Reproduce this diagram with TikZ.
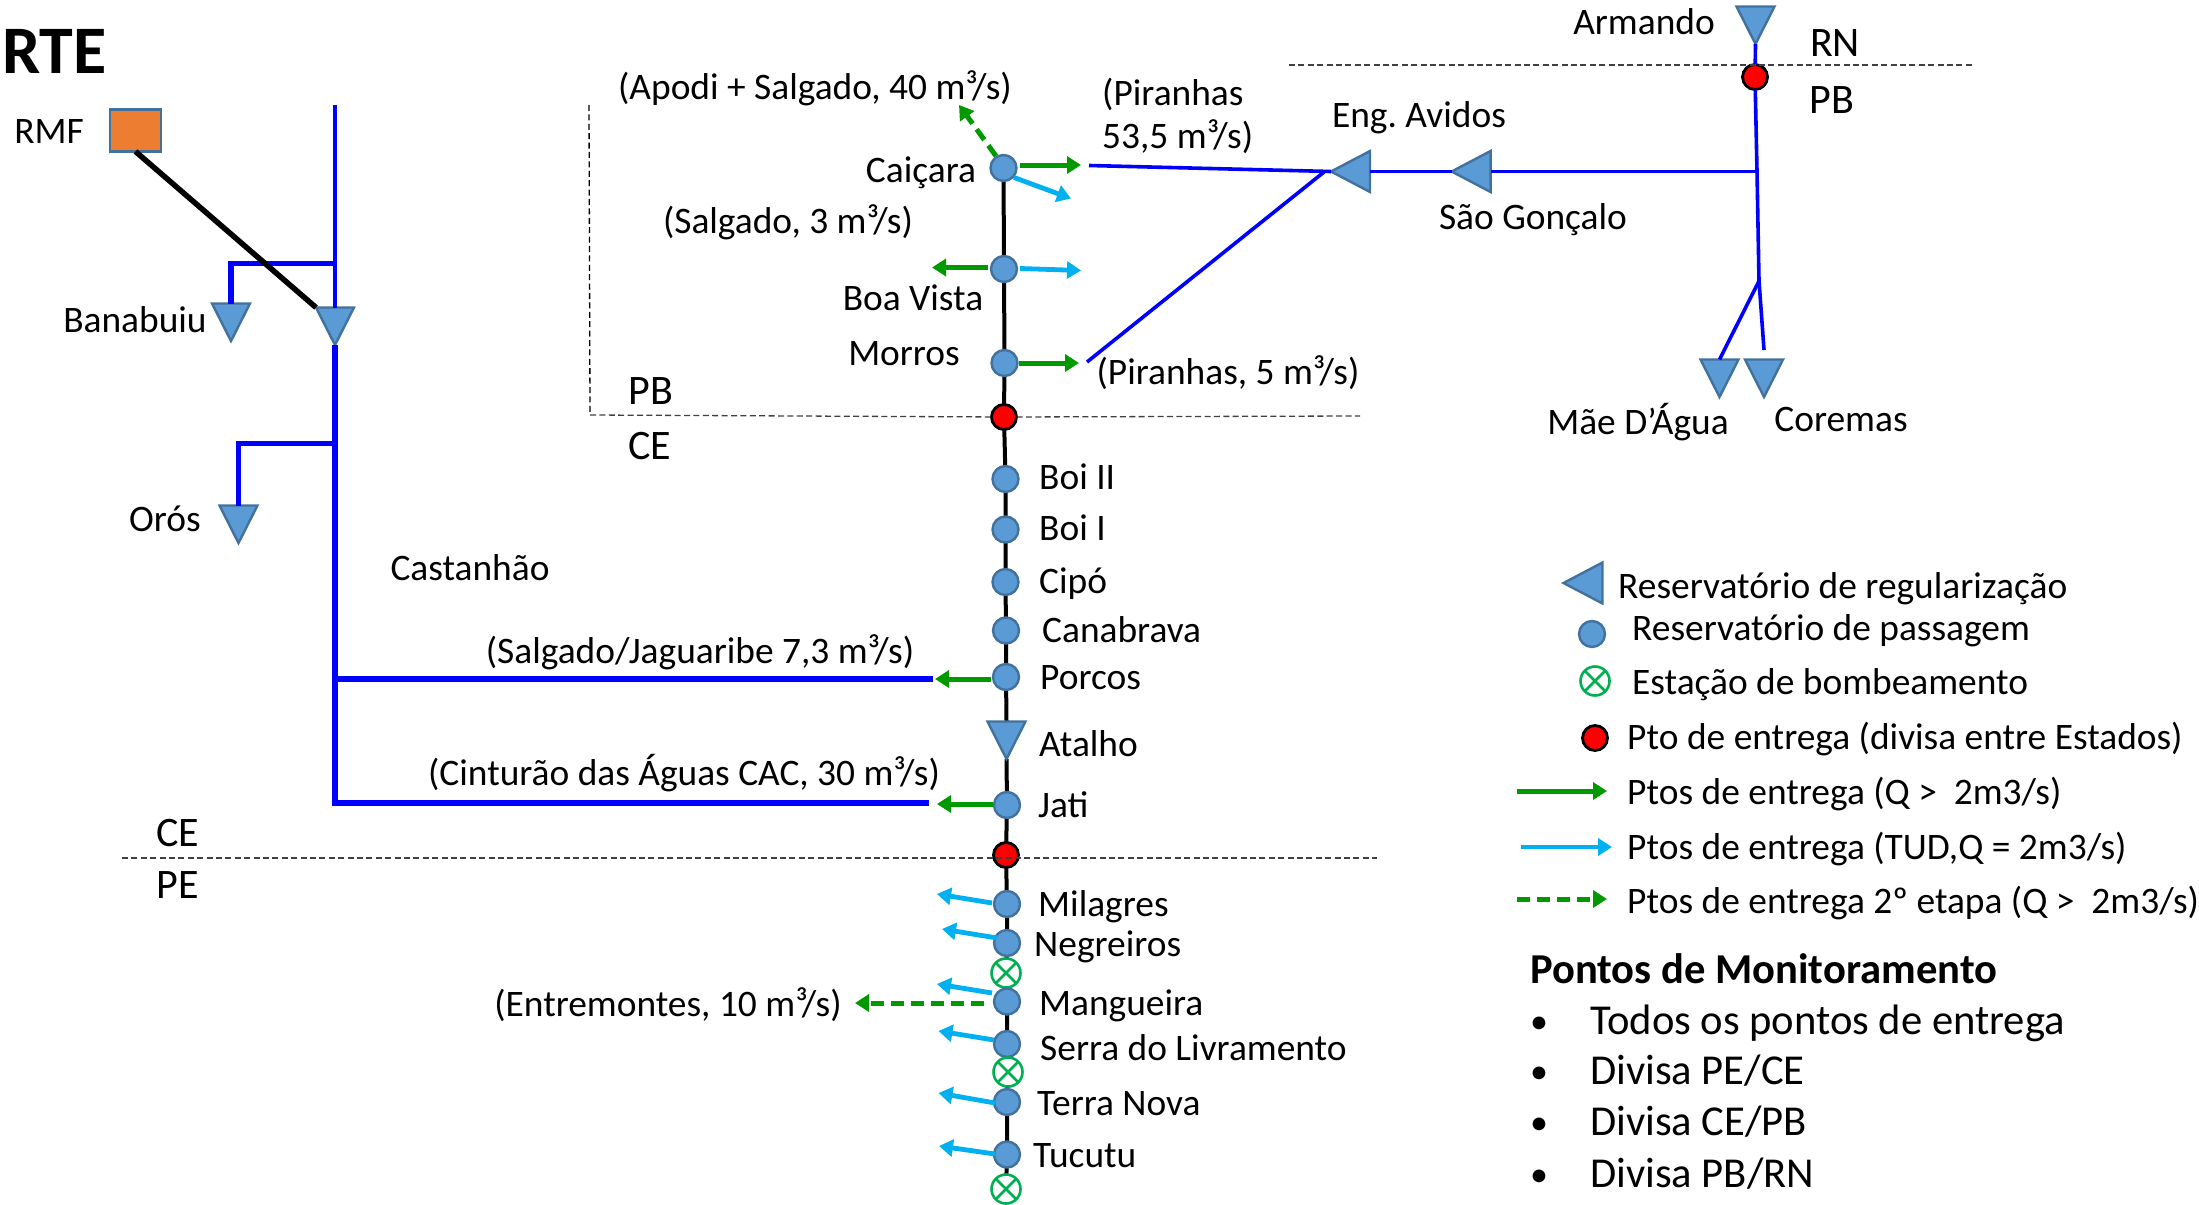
\documentclass[tikz,border=0pt]{standalone}
\usepackage{fontspec}
\setmainfont{Carlito}
\usetikzlibrary{arrows.meta,shapes.geometric,backgrounds}
\definecolor{resfill}{HTML}{5B9BD5}
\definecolor{resline}{HTML}{41719C}
\definecolor{orangebox}{HTML}{ED7D31}
\definecolor{arrgreen}{HTML}{009900}
\definecolor{arrcyan}{HTML}{00B0F0}
\definecolor{pumpgreen}{HTML}{00B050}
\tikzset{
  lbl/.style={font=\fontsize{37.4}{44}\selectfont,inner sep=0pt,text height=30pt,text depth=6pt,text=black},
  lblw/.style={lbl,anchor=west},
  stlbl/.style={font=\fontsize{42}{50}\selectfont,inner sep=0pt,text height=33pt,text depth=6pt,text=black},
  big/.style={font=\fontsize{42.6}{50}\selectfont,inner sep=0pt,text height=33pt,text depth=6pt,anchor=west},
  bul/.style={big,font=\fontsize{36}{42}\selectfont},
  res/.style={circle,fill=resfill,draw=resline,line width=2.4pt,minimum size=26pt,inner sep=0pt,outer sep=0pt},
  divisa/.style={circle,fill=red,draw=black,line width=2.8pt,minimum size=25pt,inner sep=0pt,outer sep=0pt},
  pump/.style={circle,fill=white,draw=pumpgreen,line width=2.6pt,minimum size=29pt,inner sep=0pt,outer sep=0pt,
    path picture={\draw[pumpgreen,line width=2.6pt] (path picture bounding box.north west)--(path picture bounding box.south east)
      (path picture bounding box.north east)--(path picture bounding box.south west);}},
  tri/.style={isosceles triangle,isosceles triangle stretches,fill=resfill,draw=resline,line width=2.4pt,inner sep=0pt,outer sep=0pt,anchor=apex,minimum height=37.5pt,minimum width=38pt},
  tridown/.style={tri,shape border rotate=-90},
  trileft/.style={tri,shape border rotate=180,minimum height=39pt,minimum width=41pt},
  pipe/.style={draw=blue,line width=3.6pt},
  pipeb/.style={draw=blue,line width=5.2pt},
  canal/.style={draw=black,line width=4pt},
  limit/.style={draw=black!75,line width=1.3pt,dash pattern=on 6pt off 3.4pt},
  garr/.style={draw=arrgreen,line width=5pt,-{Triangle[length=14pt,width=17pt]}},
  darr/.style={garr,dash pattern=on 13pt off 7pt},
  carr/.style={draw=arrcyan,line width=4.8pt,-{Triangle[length=14pt,width=17pt]}}
}
\begin{document}
\begin{tikzpicture}[x=1pt,y=-1pt]
\useasboundingbox (0,0) rectangle (2199,1204);
% reservoirs
\node[res] (caicara) at (1003.5,168) {};
\node[res] (boavista) at (1004,269) {};
\node[res] (morros) at (1004.5,363) {};
\node[divisa] (redpb) at (1004,417) {};
\node[res] (boi2) at (1005.5,479) {};
\node[res] (boi1) at (1005.5,529.5) {};
\node[res] (cipo) at (1005.5,582) {};
\node[res] (canabrava) at (1006,630.5) {};
\node[res] (porcos) at (1006,677) {};
\node[tridown] (atalho) at (1006.5,759) {};
\node[res] (jati) at (1007,805) {};
\node[divisa] (redpe) at (1006,855) {};
\node[res] (milagres) at (1007,904) {};
\node[res] (negreiros) at (1007,943) {};
\node[pump] (pumpa) at (1006,973) {};
\node[res] (mangueira) at (1007,1001.5) {};
\node[res] (serra) at (1007,1044) {};
\node[pump] (pumpb) at (1008,1072) {};
\node[res] (terranova) at (1007,1102) {};
\node[res] (tucutu) at (1007,1154.5) {};
\node[pump] (pumpc) at (1006,1189) {};
\coordinate (canalend) at (1007,1204);
% main canal behind the nodes
\begin{scope}[on background layer]
\draw[canal] (caicara.center)--(boavista.center)--(morros.center)--(redpb.center)--(boi2.center)--(boi1.center)--(cipo.center)--(canabrava.center)--(porcos.center)--(atalho.lower side);
\draw[canal] (atalho.apex)--(jati.center)--(redpe.center)--(milagres.center)--(negreiros.center)--(pumpa.center)--(mangueira.center)--(serra.center)--(pumpb.center)--(terranova.center)--(tucutu.center)--(pumpc.center)--(canalend);
\end{scope}
% left system
\node[draw=resline,fill=orangebox,line width=2.4pt,minimum width=51pt,minimum height=42pt,inner sep=0pt,outer sep=0pt] (rmf) at (135.5,130.5) {};
\node[tridown] (castanhao) at (335,345) {};
\node[tridown] (banabuiu) at (231,341) {};
\node[tridown] (oros) at (238.5,543) {};
\coordinate (topn) at (335,105);
\coordinate (jban) at (335,263.5);
\coordinate (cban) at (231,263.5);
\coordinate (joros) at (335,443.5);
\coordinate (coros) at (238.5,443.5);
\coordinate (jsalg) at (335,679);
\coordinate (esalg) at (933,679);
\coordinate (bott) at (335,803);
\coordinate (ecint) at (929,803);
\draw[pipe] (topn)--(castanhao.lower side);
\draw[pipeb,line join=miter] (jban)--(cban)--(banabuiu.lower side);
\draw[pipeb,line join=miter] (castanhao.apex)--(bott)--(ecint);
\draw[pipeb,line join=miter] (joros)--(coros)--(oros.lower side);
\draw[pipeb] (jsalg)--(esalg);
\draw[line width=5.5pt,black] (rmf.south)--(castanhao.right corner);
% northern system
\node[trileft] (avidos) at (1331,171.5) {};
\node[trileft] (goncalo) at (1451.6,171.5) {};
\node[tridown] (armando) at (1755.5,44) {};
\node[divisa] (redrn) at (1755,77) {};
\node[tridown] (maedagua) at (1719.5,397) {};
\node[tridown] (coremas) at (1764,397) {};
\coordinate (jh) at (1757,171.5);
\coordinate (jb) at (1759,281);
\coordinate (cor) at (1764,350);
\coordinate (pa) at (1089,165.5);
\coordinate (pb) at (1087,362);
\coordinate (pc) at (1324,172);
\draw[pipe] (armando.apex)--(redrn);
\draw[pipe] (redrn)--(jh)--(jb)--(cor);
\draw[pipe] (jb)--(maedagua.lower side);
\draw[pipe] (jh)--(goncalo.lower side);
\draw[pipe] (goncalo.apex)--(avidos.lower side);
\draw[pipe] (pa)--(avidos.apex);
\draw[pipe] (pc)--(pb);
% delivery arrows
\foreach \n/\ax/\ay/\bx/\by/\s in {
 ga/1020/165/1081/165/garr, gb/988/267.5/932/267.5/garr, gc/1019/363/1079/363/garr,
 gd/991/679/935/679/garr, ge/993/804/937/804/garr,
 ca/1014/177.5/1071/198.5/carr, cb/1020/268.5/1081/270.5/carr,
 cc/992/903/937/894/carr, cd/997/938/942/929/carr, ce/992/993/937/984/carr,
 cf/994/1040/938.5/1031/carr, cg/995/1103/938.5/1093/carr, ch/995/1154/939/1146/carr,
 da/996/156/959/105/darr, db/984/1003/855/1003/darr}
{\coordinate (\n s) at (\ax,\ay); \coordinate (\n e) at (\bx,\by); \draw[\s] (\n s)--(\n e);}
% state limits
\coordinate (la) at (589,105); \coordinate (lb) at (590,415); \coordinate (lc) at (1360,416);
\draw[draw=black,line width=1.3pt,dash pattern=on 6pt off 3.4pt] (la)--(lb);
\draw[limit] (lb)--(redpb)--(lc);
\coordinate (ld) at (122,858); \coordinate (le) at (1377,858);
\draw[limit] (ld)--(le);
\coordinate (lf) at (1289,65); \coordinate (lg) at (1973,65);
\draw[limit] (lf)--(lg);
% labels
\node[font=\bfseries\fontsize{68}{72}\selectfont,inner sep=0pt,anchor=west,text height=44pt,text depth=0pt] (rte) at (2,52) {RTE};
\node[lbl] (trmf) at (49,131) {RMF};
\node[lbl] (tban) at (135,320) {Banabuiu};
\node[lbl] (toros) at (165,519) {Orós};
\node[lbl] (tcast) at (470,568) {Castanhão};
\node[stlbl] (tpb) at (651,391) {PB};
\node[stlbl] (tce) at (650,446) {CE};
\node[stlbl] (tce2) at (178,833) {CE};
\node[stlbl] (tpe) at (178,885) {PE};
\node[lbl] (tapodi) at (815,88) {(Apodi + Salgado, 40 m³/s)};
\node[lblw] (tpir) at (1102,94) {(Piranhas};
\node[lblw] (tpirb) at (1102,137) {53,5 m³/s)};
\node[lbl] (tcai) at (921,170) {Caiçara};
\node[lbl] (tsalg) at (788,221) {(Salgado, 3 m³/s)};
\node[lbl] (tboa) at (913,298) {Boa Vista};
\node[lbl] (tmor) at (904,353) {Morros};
\node[lbl] (tpir5) at (1228,372) {(Piranhas, 5 m³/s)};
\node[lblw] at (1039,477) (tboi2) {Boi II};
\node[lblw] at (1039,528) (tboi1) {Boi I};
\node[lblw] at (1039,581) (tcip) {Cipó};
\node[lblw] at (1042,630) (tcan) {Canabrava};
\node[lblw] at (1040,677) (tpor) {Porcos};
\node[lblw] at (1039,744) (tata) {Atalho};
\node[lblw] at (1038,805) (tjat) {Jati};
\node[lbl] at (700,651) (tsj) {(Salgado/Jaguaribe 7,3 m³/s)};
\node[lbl] at (684,773) (tcin) {(Cinturão das Águas CAC, 30 m³/s)};
\node[lblw] at (1038,904) (tmil) {Milagres};
\node[lblw] at (1034,944) (tneg) {Negreiros};
\node[lblw] at (1039,1003) (tman) {Mangueira};
\node[lbl] at (668,1004) (tent) {(Entremontes, 10 m³/s)};
\node[lblw] at (1040,1048) (tser) {Serra do Livramento};
\node[lblw] at (1037,1103) (tter) {Terra Nova};
\node[lblw] at (1033,1155) (ttuc) {Tucutu};
\node[lbl] at (1644,23) (tarm) {Armando};
\node[stlbl] at (1835,43) (trn) {RN};
\node[stlbl] at (1832,100) (tpb2) {PB};
\node[lbl] at (1419,116) (teng) {Eng.\ Avidos};
\node[lbl] at (1533,217) (tgon) {São Gonçalo};
\node[lbl] at (1638,422) (tmae) {Mãe D’Água};
\node[lbl] at (1841,419) (tcor) {Coremas};
% legend
\node[trileft] (legtri) at (1563.5,583) {};
\node[lblw] at (1618,586) (l1) {Reservatório de regularização};
\node[res] (legres) at (1592,634) {};
\node[lblw] at (1632,628) (l2) {Reservatório de passagem};
\node[pump] (legpump) at (1595,681) {};
\node[lblw] at (1632,682) (l3) {Estação de bombeamento};
\node[divisa] (legred) at (1595,738) {};
\node[lblw] at (1627,737) (l4) {Pto de entrega (divisa entre Estados)};
\coordinate (lga) at (1517,791); \coordinate (lgb) at (1607,791);
\draw[garr] (lga)--(lgb);
\node[lblw] at (1627,792) (l5) {Ptos de entrega (Q >~ 2m3/s)};
\coordinate (lca) at (1521,847); \coordinate (lcb) at (1612,847);
\draw[carr] (lca)--(lcb);
\node[lblw] at (1627,847) (l6) {Ptos de entrega (TUD,Q = 2m3/s)};
\coordinate (lda) at (1517,899); \coordinate (ldb) at (1607,899);
\draw[darr] (lda)--(ldb);
\node[lblw] at (1627,901) (l7) {Ptos de entrega 2º etapa (Q >~ 2m3/s)};
\node[big,font=\bfseries\fontsize{42.6}{50}\selectfont] at (1530,970) (mon) {Pontos de Monitoramento};
\node[bul] at (1530,1020) (b1) {•};
\node[big] at (1590,1021) (m1) {Todos os pontos de entrega};
\node[bul] at (1530,1070) (b2) {•};
\node[big] at (1590,1071) (m2) {Divisa PE/CE};
\node[bul] at (1530,1121) (b3) {•};
\node[big] at (1590,1122) (m3) {Divisa CE/PB};
\node[bul] at (1530,1173) (b4) {•};
\node[big] at (1590,1174) (m4) {Divisa PB/RN};
\end{tikzpicture}
\end{document}
